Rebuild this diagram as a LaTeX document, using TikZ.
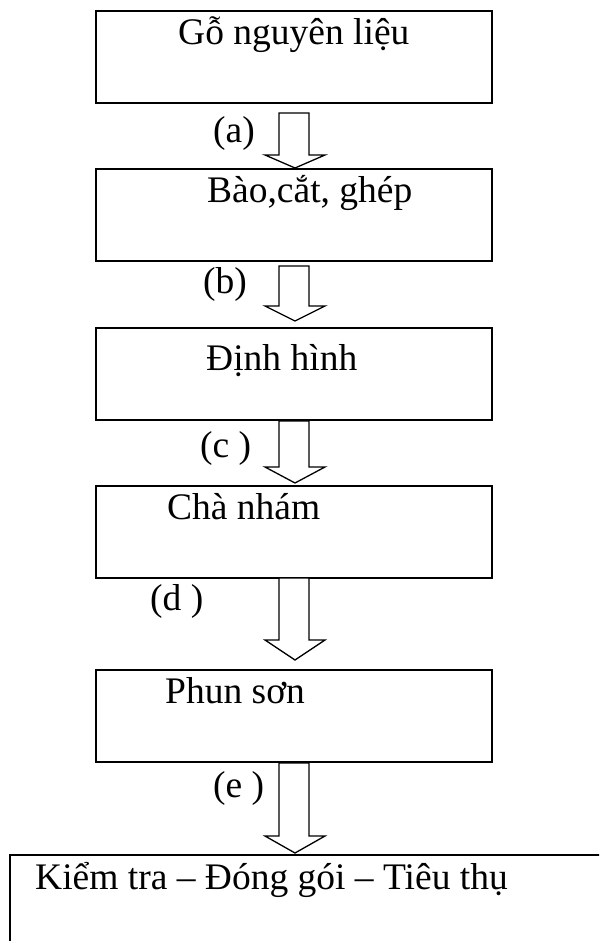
\documentclass[tikz,border=0pt]{standalone}
\usepackage{fontspec}
\setmainfont{Liberation Serif}
\begin{document}
\begin{tikzpicture}[x=1pt,y=-1pt,
  box/.style={draw, line width=2pt, anchor=north west, minimum width=396pt, minimum height=92pt, inner sep=0pt},
  txt/.style={anchor=base west, inner sep=0pt, font=\fontsize{37.5}{44}\selectfont},
  lbl/.style={anchor=base west, inner sep=0pt, font=\fontsize{37.5}{44}\selectfont},
  blockarrow/.style={draw, line width=1.3pt, fill=white, line join=miter}]
\clip (0,0) rectangle (599,941);
\fill[white] (0,0) rectangle (599,941);
% boxes
\node[box] (b1) at (95,10) {};
\node[box] (b2) at (95,168) {};
\node[box] (b3) at (95,327) {};
\node[box] (b4) at (95,485) {};
\node[box] (b5) at (95,669) {};
\node[box, minimum width=640pt, minimum height=140pt] (b6) at (9,854) {};
% texts
\node[txt] (t1) at (178,45) {Gỗ nguyên liệu};
\node[txt] (t2) at (207,203) {Bào,cắt, ghép};
\node[txt] (t3) at (206,370) {Định hình};
\node[txt] (t4) at (167,519) {Chà nhám};
\node[txt] (t5) at (165,703) {Phun sơn};
\node[txt] (t6) at (35,889) {Kiểm tra – Đóng gói – Tiêu thụ};
% labels
\node[lbl] (la) at (213,143) {(a)};
\node[lbl] (lb) at (203,293) {(b)};
\node[lbl] (lc) at (200,457) {(c )};
\node[lbl] (ld) at (150,610) {(d )};
\node[lbl] (le) at (213,797) {(e )};
% block arrows: shaft top y, head base y, tip y
\foreach \n/\top/\base/\tip in {1/113/155/168, 2/266/306/321, 3/421/467/483, 4/578/640/660, 5/763/836/853}{
  \draw[blockarrow] (279,\top) -- (309,\top) -- (309,\base) -- (325,\base) -- (295,\tip)
     -- (265,\base) -- (279,\base) -- cycle;
}
\end{tikzpicture}
\end{document}
